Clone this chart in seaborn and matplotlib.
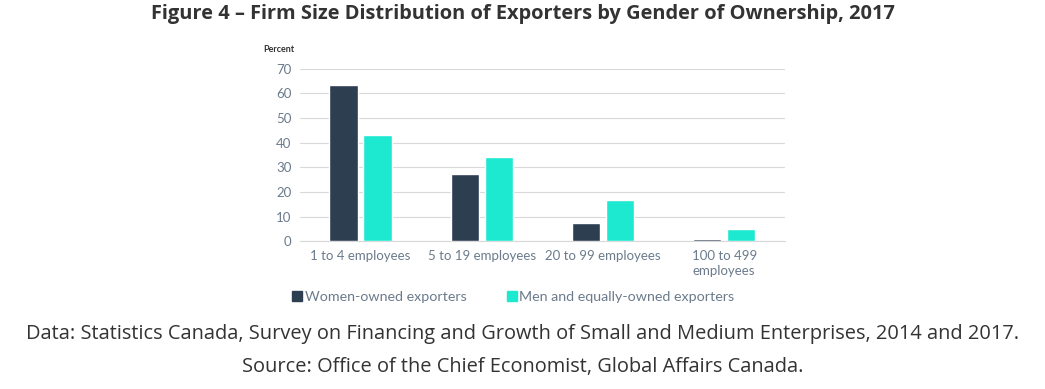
import pandas as pd
import numpy as np
import seaborn as sns
import matplotlib.pyplot as plt
from matplotlib.lines import Line2D

# Data
sizes = ["1 to 4 employees", "5 to 19 employees", "20 to 99 employees", "100 to 499\nemployees"]
women = [63.5, 27.3, 7.3, 0.8]
men = [43.1, 34.2, 16.7, 5.0]
groups = ["Women-owned exporters", "Men and equally-owned exporters"]

df = pd.DataFrame({
    "Size": sizes * 2,
    "Percent": women + men,
    "Group": [groups[0]] * 4 + [groups[1]] * 4,
})

dark = "#2c3e50"
teal = "#1de9d0"
grey = "#6b7b8c"

sns.set_style("white")
plt.rcParams["font.family"] = ["Lato", "DejaVu Sans"]

fig = plt.figure(figsize=(10.45, 3.89), dpi=100)
ax = fig.add_axes([0.287, 0.380, 0.464, 0.443])

sns.barplot(data=df, x="Size", y="Percent", hue="Group", palette=[dark, teal],
            saturation=1, width=0.56, gap=0.17, ax=ax, legend=False, zorder=3)

ax.set_ylim(0, 70)
ax.set_yticks(range(0, 71, 10))
ax.set_xlim(-0.5, 3.5)
ax.grid(axis="y", color="#d9d9d9", linewidth=0.8, zorder=0)
for s in ["top", "right", "left"]:
    ax.spines[s].set_visible(False)
ax.spines["bottom"].set_color("#d9d9d9")
ax.tick_params(axis="both", length=0, labelsize=9.5, colors=grey, pad=6)
for lbl in ax.get_xticklabels():
    lbl.set_linespacing(1.35)
ax.set_xlabel("")
ax.set_ylabel("")
ax.text(-0.075, 1.1, "Percent", transform=ax.transAxes, fontsize=6.5,
        fontweight="bold", color="#333333", ha="left")

handles = [Line2D([], [], marker="s", linestyle="", color=c, markersize=6.5) for c in [dark, teal]]
fig.legend(handles, groups, loc="center", bbox_to_anchor=(0.491, 0.236), ncol=2,
           frameon=False, fontsize=10.3, labelcolor=grey, handletextpad=0.1,
           columnspacing=2.8, handlelength=0.8)

fig.text(0.5, 0.965, "Figure 4 \u2013 Firm Size Distribution of Exporters by Gender of Ownership, 2017",
         ha="center", va="center", fontsize=14.4, fontweight="bold",
         family="Open Sans", color="#333333")
fig.text(0.5, 0.141, "Data: Statistics Canada, Survey on Financing and Growth of Small and Medium Enterprises, 2014 and 2017.",
         ha="center", va="center", fontsize=14.4, family="Open Sans", color="#333333")
fig.text(0.5, 0.056, "Source: Office of the Chief Economist, Global Affairs Canada.",
         ha="center", va="center", fontsize=14.4, family="Open Sans", color="#333333")

fig.savefig("out.png", dpi=100)
